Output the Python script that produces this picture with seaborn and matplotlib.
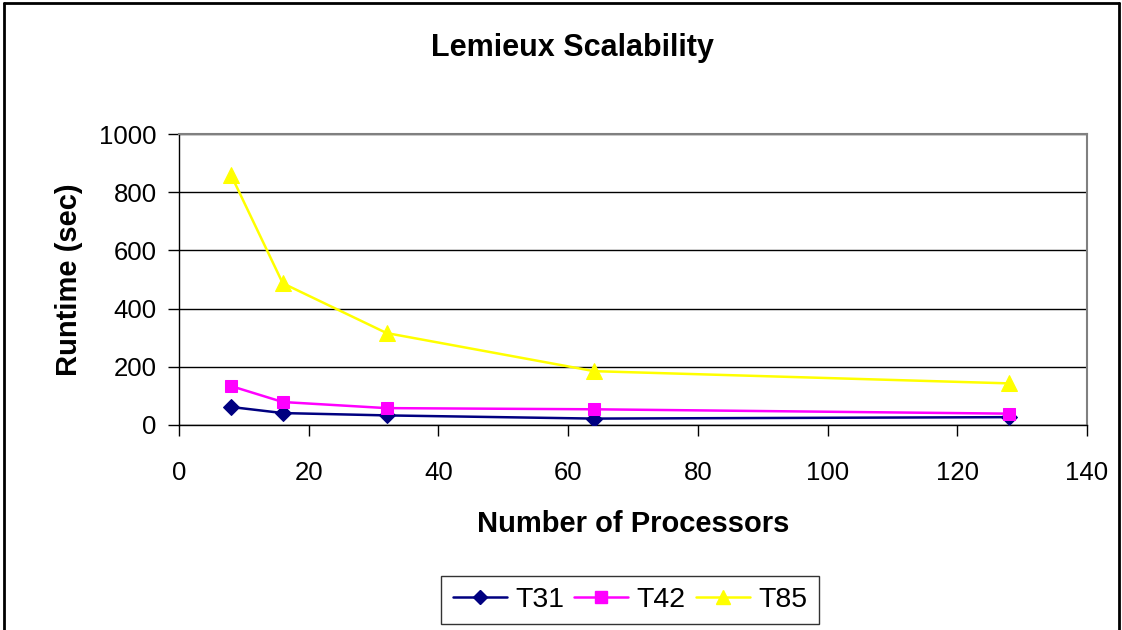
import matplotlib
matplotlib.use("Agg")
import matplotlib.pyplot as plt
import seaborn as sns
import pandas as pd
from matplotlib.lines import Line2D

processors = [8, 16, 32, 64, 128]
t31 = [62, 41, 33, 22, 27]
t42 = [134, 79, 58, 54, 39]
t85 = [860, 487, 316, 185, 143]
series_names = ["T31", "T42", "T85"]
colors = ["#000080", "#FF00FF", "#FFFF00"]
markers = ["D", "s", "^"]
marker_sizes = [8, 9, 11]

rows = []
for name, vals in zip(series_names, [t31, t42, t85]):
    for p, v in zip(processors, vals):
        rows.append({"Processors": p, "Runtime": v, "Series": name})
df = pd.DataFrame(rows)

sns.set_theme(style="white")
plt.rcParams['font.family'] = ['Liberation Sans', 'DejaVu Sans']
plt.rcParams['text.color'] = 'black'
plt.rcParams['axes.labelcolor'] = 'black'
plt.rcParams['xtick.color'] = 'black'
plt.rcParams['ytick.color'] = 'black'

fig = plt.figure(figsize=(11.22, 6.3), dpi=100)
ax = fig.add_axes([179/1122, 1 - 425/630, (1087-179)/1122, (425-134)/630])

for name, c, m, ms in zip(series_names, colors, markers, marker_sizes):
    sub = df[df["Series"] == name]
    sns.lineplot(data=sub, x="Processors", y="Runtime", ax=ax, color=c,
                 marker=m, markersize=ms, markeredgecolor=c, linewidth=1.8,
                 label=name, legend=False, zorder=3)

ax.set_xlim(0, 140)
ax.set_ylim(0, 1000)
ax.set_xticks(range(0, 141, 20))
ax.set_yticks(range(0, 1001, 200))
ax.yaxis.grid(True, color="black", linewidth=1)
ax.xaxis.grid(False)
for s in ["top", "right"]:
    ax.spines[s].set_color("#808080")
    ax.spines[s].set_linewidth(1.5)
for s in ["left", "bottom"]:
    ax.spines[s].set_color("black")
    ax.spines[s].set_linewidth(1)
ax.tick_params(axis="both", which="major", labelsize=18.5, direction="out",
               length=8, width=1, color="black", left=True, bottom=True,
               labelcolor="black")
ax.tick_params(axis="x", pad=18)
ax.tick_params(axis="y", pad=8)

ax.set_xlabel("Number of Processors", fontsize=21, fontweight="bold", labelpad=18, color="black")
ax.set_ylabel("Runtime (sec)", fontsize=21, fontweight="bold", labelpad=12, color="black")
fig.suptitle("Lemieux Scalability", fontsize=22, fontweight="bold", x=572/1122, y=1 - 48/630,
             va="center", color="black")

handles = [Line2D([0], [0], color=c, marker=m, markersize=ms - 1, markeredgecolor=c, linewidth=1.8)
           for c, m, ms in zip(colors, markers, marker_sizes)]
leg = fig.legend(handles, series_names, loc="center", bbox_to_anchor=(630/1122, 1 - 600/630),
                 ncol=3, fontsize=20.5, frameon=True, fancybox=False, edgecolor="black",
                 handlelength=1.9, columnspacing=0.35, handletextpad=0.3, borderpad=0.4,
                 borderaxespad=0)
leg.get_frame().set_linewidth(1)
for t in leg.get_texts():
    t.set_color("black")

# outer chart border
fig.add_artist(Line2D([4/1122, 4/1122], [0, 1 - 3/630], transform=fig.transFigure, color="black", linewidth=2))
fig.add_artist(Line2D([4/1122, 1119/1122], [1 - 3/630, 1 - 3/630], transform=fig.transFigure, color="black", linewidth=2))
fig.add_artist(Line2D([1119/1122, 1119/1122], [0, 1 - 3/630], transform=fig.transFigure, color="black", linewidth=2))

fig.savefig("out.png", dpi=100)
